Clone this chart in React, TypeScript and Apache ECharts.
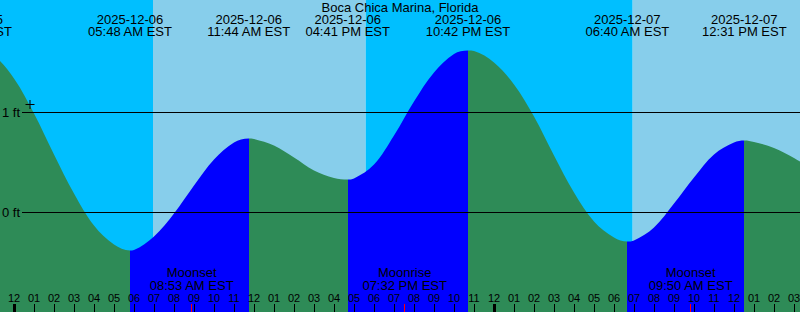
import React, { useEffect, useRef } from 'react';
import * as echarts from 'echarts';

// ---------- data ----------
const TITLE = 'Boca Chica Marina, Florida';
const BASE_DATE = '2025-12-06';

// tide extremes (labels at top)
const eventDates = ['2025-12-05', '2025-12-06', '2025-12-06', '2025-12-06', '2025-12-06', '2025-12-07', '2025-12-07'];
const eventTimes = ['09:47 PM', '05:48 AM', '11:44 AM', '04:41 PM', '10:42 PM', '06:40 AM', '12:31 PM'];
const eventKinds = ['high', 'low', 'high', 'low', 'high', 'low', 'high'];
const eventFeet = [1.7, -0.38, 0.74, 0.33, 1.62, -0.29, 0.72];

// hourly tide heights (ft), hours -1 .. 40 from 2025-12-06 00:00
const hourlyStart = -1;
const hourlyFeet = [
  1.57, 1.34, 0.99, 0.58, 0.19, -0.13, -0.32, -0.375, -0.24, -0.01,
  0.27, 0.53, 0.7, 0.735, 0.67, 0.55, 0.42, 0.345, 0.34, 0.48,
  0.77, 1.11, 1.4, 1.585, 1.615, 1.5, 1.28, 0.96, 0.57, 0.2,
  -0.09, -0.25, -0.28, -0.15, 0.09, 0.35, 0.58, 0.7, 0.705, 0.645,
  0.545, 0.42,
];

// moon events (labels at bottom)
const moonDates = ['2025-12-06', '2025-12-06', '2025-12-07'];
const moonTimes = ['08:53 AM', '07:32 PM', '09:50 AM'];
const moonKinds = ['Moonset', 'Moonrise', 'Moonset'];

// sun events (day / night bands)
const sunDates = ['2025-12-06', '2025-12-06', '2025-12-07'];
const sunTimes = ['06:57 AM', '05:35 PM', '06:56 AM'];
const sunKinds = ['sunrise', 'sunset', 'sunrise'];

// current-time mark
const nowDate = '2025-12-06';
const nowTime = '12:48 AM';
const nowFeet = 1.08;

// y tick labels (ft)
const yLabelFeet = [0, 1];

// ---------- layout / style ----------
const W = 800;
const H = 312;
const PX_PER_HOUR = 20;
const HOUR0_PX = 14;
const X_MIN = -5;
const X_MAX = 40;
const Y_MIN = -0.995;
const Y_MAX = 2.125;
const FT_LINE_START_PX = 22;
const FONT = 'Liberation Sans';
const C_NIGHT = '#00BFFF';
const C_DAY = '#87CEEB';
const C_EBB = '#2E8B57';
const C_FLOOD = '#0000FF';

function toHours(date: string, time: string): number {
  const d = (s: string) => Date.UTC(+s.slice(0, 4), +s.slice(5, 7) - 1, +s.slice(8, 10));
  const day = (d(date) - d(BASE_DATE)) / 3600000;
  const [hm, ap] = time.split(' ');
  let [h, m] = hm.split(':').map(Number);
  if (ap === 'PM' && h !== 12) h += 12;
  if (ap === 'AM' && h === 12) h = 0;
  return day + h + m / 60;
}

function nearestIndex(arr: number[], v: number) {
  let best = 0;
  for (let i = 1; i < arr.length; i++) if (Math.abs(arr[i] - v) < Math.abs(arr[best] - v)) best = i;
  return best;
}

export default function App() {
  const ref = useRef<HTMLDivElement>(null);

  useEffect(() => {
    if (!ref.current) return;
    const chart = echarts.init(ref.current, undefined, { renderer: 'svg' });

    const eventHours = eventDates.map((d, i) => toHours(d, eventTimes[i]));
    const moonHours = moonDates.map((d, i) => toHours(d, moonTimes[i]));
    const sunHours = sunDates.map((d, i) => toHours(d, sunTimes[i]));
    const nowHour = toHours(nowDate, nowTime);

    // curve: hourly readings merged with extremes
    const pts: [number, number][] = hourlyFeet.map((v, i) => [hourlyStart + i, v]);
    eventHours.forEach((t, i) => pts.push([t, eventFeet[i]]));
    pts.sort((a, b) => a[0] - b[0]);

    // rising (flood) / falling (ebb) pieces
    const pieces: any[] = [];
    let prev = -Infinity;
    eventHours.forEach((t, i) => {
      const color = eventKinds[i] === 'high' ? C_FLOOD : C_EBB;
      const p: any = { lt: t, color };
      if (prev !== -Infinity) p.gte = prev;
      pieces.push(p);
      prev = t;
    });
    pieces.push({ gte: prev, color: eventKinds[eventKinds.length - 1] === 'high' ? C_EBB : C_FLOOD });

    // day / night bands
    const edges = [X_MIN, ...sunHours, X_MAX];
    const bands = [] as any[];
    for (let i = 0; i < edges.length - 1; i++) {
      let isDay: boolean;
      if (i === 0) isDay = sunKinds[0] === 'sunset';
      else isDay = sunKinds[i - 1] === 'sunrise';
      bands.push([
        { xAxis: edges[i], itemStyle: { color: isDay ? C_DAY : C_NIGHT, opacity: 1 } },
        { xAxis: edges[i + 1] },
      ]);
    }

    const lineStartHour = (FT_LINE_START_PX - HOUR0_PX) / PX_PER_HOUR;
    const ftLines = yLabelFeet.map((v) => [{ coord: [lineStartHour, v] }, { coord: [X_MAX, v] }]);

    const hourTicks: number[] = [];
    for (let h = 0; h <= 39; h++) hourTicks.push(h);
    const midnightTicks = hourTicks.filter((h) => h % 24 === 0);

    const gridLeft = HOUR0_PX + X_MIN * PX_PER_HOUR;
    const gridWidth = (X_MAX - X_MIN) * PX_PER_HOUR;

    const baseX = {
      type: 'value',
      min: X_MIN,
      max: X_MAX,
      gridIndex: 0,
      z: 10,
      axisLine: { show: false, onZero: false },
      splitLine: { show: false },
    };

    const option: any = {
      animation: false,
      title: {
        text: TITLE,
        left: 'center',
        top: 0,
        padding: 0,
        textStyle: { fontSize: 13, fontWeight: 'normal', color: '#000', fontFamily: FONT, lineHeight: 14 },
      },
      grid: {
        left: gridLeft,
        width: gridWidth,
        top: 0,
        height: H,
        containLabel: false,
        outerBoundsMode: 'none',
      },
      xAxis: [
        {
          ...baseX,
          position: 'bottom',
          axisTick: { show: true, inside: true, length: 8, customValues: hourTicks, lineStyle: { color: '#000', width: 1 } },
          axisLabel: {
            show: true,
            inside: true,
            margin: 8,
            customValues: hourTicks,
            formatter: (v: number) => String(Math.round(v) % 12 || 12).padStart(2, '0'),
            fontSize: 11,
            lineHeight: 12,
            color: '#000',
            fontFamily: FONT,
          },
        },
        {
          ...baseX,
          position: 'bottom',
          axisTick: { show: true, inside: true, length: 8, customValues: midnightTicks, lineStyle: { color: '#000', width: 3 } },
          axisLabel: { show: false },
        },
        {
          ...baseX,
          position: 'bottom',
          axisTick: { show: true, inside: true, length: 8, customValues: moonHours, lineStyle: { color: '#FF0000', width: 1 } },
          axisLabel: {
            show: true,
            inside: true,
            margin: 20,
            customValues: moonHours,
            formatter: (v: number) => {
              const i = nearestIndex(moonHours, v);
              return `${moonKinds[i]}\n${moonTimes[i]} EST`;
            },
            fontSize: 13,
            lineHeight: 13,
            color: '#000',
            fontFamily: FONT,
          },
        },
        {
          ...baseX,
          position: 'top',
          axisTick: { show: false },
          axisLabel: {
            show: true,
            inside: true,
            margin: 13,
            customValues: eventHours,
            formatter: (v: number) => {
              const i = nearestIndex(eventHours, v);
              return `${eventDates[i]}\n${eventTimes[i]} EST`;
            },
            fontSize: 13,
            lineHeight: 12.5,
            color: '#000',
            fontFamily: FONT,
          },
        },
      ],
      yAxis: {
        type: 'value',
        min: Y_MIN,
        max: Y_MAX,
        position: 'left',
        offset: gridLeft,
        z: 10,
        axisLine: { show: false, onZero: false },
        axisTick: { show: false },
        splitLine: { show: false },
        axisLabel: {
          inside: true,
          margin: 2,
          customValues: yLabelFeet,
          formatter: (v: number) => `${v} ft`,
          fontSize: 13,
          lineHeight: 14,
          color: '#000',
          fontFamily: FONT,
        },
      },
      visualMap: [
        { type: 'piecewise', show: false, dimension: 0, seriesIndex: 0, pieces },
      ],
      series: [
        {
          type: 'line',
          xAxisIndex: 0,
          yAxisIndex: 0,
          data: pts,
          smooth: 0.35,
          showSymbol: false,
          symbol: 'none',
          silent: true,
          z: 3,
          lineStyle: { width: 0 },
          areaStyle: { opacity: 1, origin: 'start' },
          markArea: { silent: true, label: { show: false }, data: bands },
          markLine: {
            silent: true,
            symbol: ['none', 'none'],
            label: { show: false },
            lineStyle: { color: '#000', width: 1, type: 'solid', opacity: 1 },
            data: ftLines,
          },
        },
        {
          type: 'scatter',
          xAxisIndex: 0,
          yAxisIndex: 0,
          data: [[nowHour, nowFeet]],
          symbol: 'path://M0,4L9,4L9,5L0,5Z M4,0L5,0L5,9L4,9Z',
          symbolSize: 9,
          itemStyle: { color: '#000', opacity: 1 },
          silent: true,
          z: 6,
        },
      ],
    };

    chart.setOption(option);
    return () => chart.dispose();
  }, []);

  return <div ref={ref} style={{ position: 'absolute', left: 0, top: 0, width: W, height: H }} />;
}
